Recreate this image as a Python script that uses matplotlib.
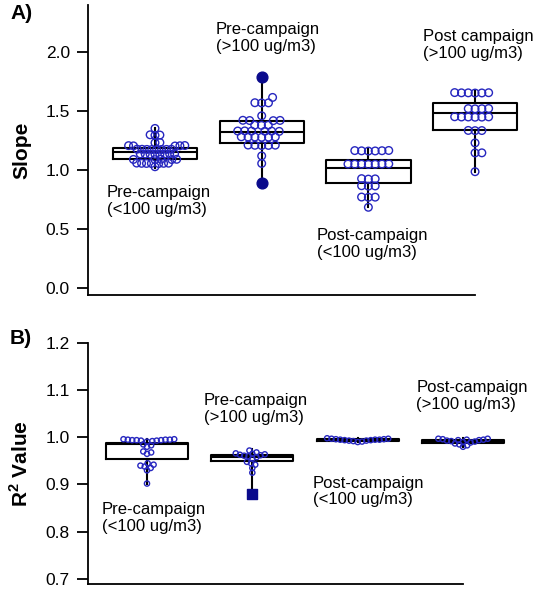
import numpy as np
import matplotlib
matplotlib.use("Agg")
import matplotlib.pyplot as plt

plt.rcParams["font.family"] = ["Liberation Sans", "DejaVu Sans"]
plt.rcParams["mathtext.fontset"] = "custom"
plt.rcParams["mathtext.rm"] = "Liberation Sans"
plt.rcParams["mathtext.bf"] = "Liberation Sans:bold"

# ---- panel A: slope ----
slope_pre_low = [1.353,
                 1.297, 1.299, 1.295,
                 1.231, 1.233,
                 1.206, 1.207, 1.205, 1.208, 1.204,
                 1.175, 1.176, 1.174, 1.177, 1.173, 1.175, 1.176, 1.174,
                 1.136, 1.137, 1.135, 1.138, 1.134, 1.136, 1.137, 1.135,
                 1.09, 1.091, 1.089, 1.092, 1.088,
                 1.057, 1.058, 1.056, 1.059, 1.055, 1.057, 1.056,
                 1.028]
slope_pre_high = [1.616,
                  1.57, 1.571, 1.569,
                  1.46,
                  1.42, 1.421, 1.419, 1.422,
                  1.38, 1.381, 1.379,
                  1.33, 1.331, 1.329, 1.332, 1.328, 1.33,
                  1.28, 1.281, 1.279, 1.282, 1.278, 1.28,
                  1.21, 1.211, 1.209, 1.212, 1.208,
                  1.12, 1.056]
slope_post_low = [1.164, 1.162, 1.165, 1.163, 1.166, 1.161,
                  1.05, 1.051, 1.049, 1.052, 1.048, 1.05, 1.051,
                  0.925, 0.923, 0.927,
                  0.865, 0.863, 0.867,
                  0.77, 0.771, 0.769,
                  0.684]
slope_post_high = [1.655, 1.656, 1.654, 1.657, 1.653, 1.655,
                   1.52, 1.521, 1.519, 1.522,
                   1.45, 1.451, 1.449, 1.452, 1.448, 1.45,
                   1.335, 1.336, 1.334,
                   1.23,
                   1.145, 1.146,
                   0.986]
slope_extremes = [1.79, 0.89]  # filled markers, group 2

slope_q1 = [1.091, 1.226, 0.887, 1.339]
slope_med = [1.155, 1.32, 1.02, 1.486]
slope_q3 = [1.189, 1.415, 1.085, 1.565]
slope_wlo = [1.017, 0.89, 0.684, 0.986]
slope_whi = [1.358, 1.79, 1.178, 1.672]

slope_labels = ["Pre-campaign\n(<100 ug/m3)", "Pre-campaign\n(>100 ug/m3)",
                "Post-campaign\n(<100 ug/m3)", "Post campaign\n(>100 ug/m3)"]

# ---- panel B: R2 ----
r2_pre_low = [0.996, 0.995, 0.994, 0.995, 0.993, 0.994, 0.996, 0.992, 0.995,
              0.993, 0.994, 0.991, 0.983, 0.985, 0.98, 0.968,
              0.965, 0.97, 0.945, 0.94, 0.938, 0.942, 0.935, 0.93, 0.902]
r2_pre_high = [0.972, 0.968, 0.966, 0.964, 0.962, 0.965, 0.963, 0.96, 0.958,
               0.961, 0.955, 0.945, 0.942, 0.948, 0.935, 0.925]
r2_post_low = [0.998, 0.997, 0.997, 0.996, 0.996, 0.995, 0.995, 0.995,
               0.994, 0.994, 0.993, 0.993, 0.992, 0.991, 0.99]
r2_post_high = [0.997, 0.997, 0.996, 0.995, 0.995, 0.994, 0.994,
                0.993, 0.992, 0.991, 0.99, 0.989, 0.987, 0.985, 0.983, 0.98]
r2_extremes = [0.879]  # filled square, group 2

r2_q1 = [0.955, 0.949, 0.993, 0.989]
r2_med = [0.985, 0.958, 0.995, 0.992]
r2_q3 = [0.988, 0.962, 0.997, 0.994]
r2_wlo = [0.902, 0.879, 0.99, 0.98]
r2_whi = [0.996, 0.975, 0.998, 0.998]

r2_labels = ["Pre-campaign\n(<100 ug/m3)", "Pre-campaign\n(>100 ug/m3)",
             "Post-campaign\n(<100 ug/m3)", "Post-campaign\n(>100 ug/m3)"]

OPEN_BLUE = "#2626bf"
DARK_BLUE = "#0a0a8c"


def swarm_offsets(vals, ypx, diam):
    # simple beeswarm: offsets in pixels, nearest free slot to center
    vals = np.asarray(vals)
    order = np.argsort(vals)
    placed = []
    offs = np.zeros(len(vals))
    for i in order:
        y = vals[i] * ypx
        near = [(px, py) for px, py in placed if abs(py - y) < diam]
        cands = [0.0]
        for px, py in near:
            dx = np.sqrt(diam ** 2 - (py - y) ** 2)
            cands += [px + dx, px - dx]
        cands.sort(key=abs)
        for c in cands:
            if all((c - px) ** 2 + (y - py) ** 2 >= diam ** 2 - 1e-6 for px, py in near):
                break
        placed.append((c, y))
        offs[i] = c
    return offs


def draw_panel(ax, groups, q1, med, q3, wlo, whi, xlim, ylim, msize, diams, width):
    ax.set_xlim(*xlim)
    ax.set_ylim(*ylim)
    stats = []
    for k in range(4):
        stats.append({"q1": q1[k], "med": med[k], "q3": q3[k],
                      "whislo": wlo[k], "whishi": whi[k], "fliers": []})
    ax.bxp(stats, positions=[1, 2, 3, 4], widths=width, showcaps=False,
           boxprops=dict(color="black", linewidth=1.5),
           medianprops=dict(color="black", linewidth=1.5),
           whiskerprops=dict(color="black", linewidth=1.5),
           manage_ticks=False, zorder=2)

    # pixel scale of data units
    p0 = ax.transData.transform((0, 0))
    p1 = ax.transData.transform((1, 1))
    xpx = p1[0] - p0[0]
    ypx = p1[1] - p0[1]
    for k, vals in enumerate(groups):
        offs = swarm_offsets(vals, ypx, diams[k])
        ax.scatter(k + 1 + offs / xpx, vals, s=msize, facecolors="none",
                   edgecolors=OPEN_BLUE, linewidths=1.0, zorder=3)

    for side in ["top", "right"]:
        ax.spines[side].set_visible(False)
    ax.spines["left"].set_linewidth(1.3)
    ax.spines["bottom"].set_linewidth(1.3)
    ax.spines["bottom"].set_bounds(xlim[0], 4)
    ax.set_xticks([])
    ax.tick_params(axis="y", direction="out", length=8, width=1.3, pad=5,
                   labelsize=12.5)


fig = plt.figure(figsize=(5.34, 5.9), dpi=100)

# panel A
axA = fig.add_axes([88 / 534, (590 - 295) / 590, 442 / 534, 290 / 590])
draw_panel(axA, [slope_pre_low, slope_pre_high, slope_post_low, slope_post_high],
           slope_q1, slope_med, slope_q3, slope_wlo, slope_whi,
           (0.372, 4.515), (-0.06, 2.4), 30, [4.9, 6.8, 6.8, 6.8], 0.79)
axA.scatter([2] * len(slope_extremes), slope_extremes, s=60, color=DARK_BLUE, zorder=4)
axA.set_yticks([0.0, 0.5, 1.0, 1.5, 2.0])
axA.set_yticklabels(["0.0", "0.5", "1.0", "1.5", "2.0"])
axA.set_ylabel("Slope", fontsize=15, fontweight="bold")
axA.yaxis.set_label_coords(-0.128, 0.5)
slope_label_pos = [(0.55, 0.87), (1.572, 2.254), (2.518, 0.508), (3.512, 2.195)]
for (lx, ly), txt in zip(slope_label_pos, slope_labels):
    axA.text(lx, ly, txt, fontsize=12, ha="left", va="top", linespacing=1.15)
fig.text(10 / 534, 1 - 4 / 590, "A)", fontsize=15, fontweight="bold",
         ha="left", va="top")

# panel B
axB = fig.add_axes([88 / 534, (590 - 584) / 590, 442 / 534, 241 / 590])
draw_panel(axB, [r2_pre_low, r2_pre_high, r2_post_low, r2_post_high],
           r2_q1, r2_med, r2_q3, r2_wlo, r2_whi,
           (0.44, 4.636), (0.689, 1.2), 14, [4.4] * 4, 0.78)
axB.scatter([2] * len(r2_extremes), r2_extremes, s=55, marker="s",
            color=DARK_BLUE, zorder=4)
axB.set_yticks([0.7, 0.8, 0.9, 1.0, 1.1, 1.2])
axB.set_yticklabels(["0.7", "0.8", "0.9", "1.0", "1.1", "1.2"])
axB.set_ylabel(r"R$^{\mathbf{2}}$ Value", fontsize=15, fontweight="bold")
axB.yaxis.set_label_coords(-0.128, 0.5)
r2_label_pos = [(0.573, 0.862), (1.542, 1.093), (2.577, 0.919), (3.555, 1.121)]
for (lx, ly), txt in zip(r2_label_pos, r2_labels):
    axB.text(lx, ly, txt, fontsize=12, ha="left", va="top", linespacing=1.15)
fig.text(10 / 534, 1 - 329 / 590, "B)", fontsize=15, fontweight="bold",
         ha="left", va="top")

fig.savefig("out.png", dpi=100)
